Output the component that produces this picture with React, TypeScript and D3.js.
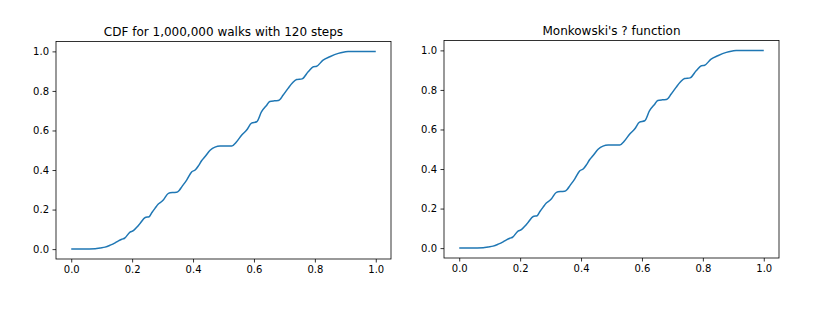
import React, { useEffect, useRef } from 'react';
import * as d3 from 'd3';

// points (x in [0,1])
const xs = [0, 0.04, 0.079, 0.095, 0.111, 0.128, 0.144, 0.155, 0.166, 0.175,
  0.193, 0.204, 0.215, 0.226, 0.243, 0.256, 0.265, 0.275, 0.286, 0.295,
  0.303, 0.319, 0.333, 0.346, 0.355, 0.363, 0.379, 0.396, 0.407, 0.418,
  0.428, 0.439, 0.456, 0.472, 0.489, 0.505, 0.527, 0.543, 0.56, 0.576,
  0.592, 0.609, 0.625, 0.642, 0.652, 0.667, 0.68, 0.696, 0.712, 0.726,
  0.74, 0.758, 0.778, 0.795, 0.806, 0.827, 0.849, 0.877, 0.893, 0.909,
  0.93, 1.0];

const walkCdf = [0, 0, 0.002, 0.006, 0.01, 0.02, 0.032, 0.042, 0.05, 0.055,
  0.086, 0.093, 0.11, 0.13, 0.16, 0.164, 0.185, 0.206, 0.228, 0.238,
  0.25, 0.282, 0.286, 0.287, 0.298, 0.315, 0.349, 0.391, 0.4, 0.422,
  0.447, 0.467, 0.5, 0.516, 0.521, 0.521, 0.522, 0.543, 0.577, 0.602,
  0.637, 0.644, 0.695, 0.728, 0.747, 0.75, 0.751, 0.779, 0.813, 0.84,
  0.858, 0.861, 0.897, 0.922, 0.925, 0.956, 0.973, 0.99, 0.996, 0.999,
  1.0, 1.0];

const questionMark = [0, 0, 0.002, 0.006, 0.01, 0.02, 0.032, 0.042, 0.05, 0.055,
  0.086, 0.093, 0.11, 0.13, 0.16, 0.164, 0.185, 0.206, 0.228, 0.238,
  0.25, 0.282, 0.286, 0.287, 0.298, 0.315, 0.349, 0.391, 0.4, 0.422,
  0.447, 0.467, 0.5, 0.516, 0.521, 0.521, 0.522, 0.543, 0.577, 0.602,
  0.637, 0.644, 0.695, 0.728, 0.747, 0.75, 0.751, 0.779, 0.813, 0.84,
  0.858, 0.861, 0.897, 0.922, 0.925, 0.956, 0.973, 0.99, 0.996, 0.999,
  1.0, 1.0];

const titles = ['CDF for 1,000,000 walks with 120 steps', "Monkowski's ? function"];
const tickValues = [0, 0.2, 0.4, 0.6, 0.8, 1.0];

const width = 818;
const height = 309;

export default function App() {
  const ref = useRef<SVGSVGElement>(null);

  useEffect(() => {
    const svg = d3.select(ref.current);
    svg.selectAll('*').remove();

    const panels = [
      { left: 56, top: 41.5, series: walkCdf, title: titles[0] },
      { left: 444, top: 40.5, series: questionMark, title: titles[1] },
    ];
    const w = 335;
    const h = 217.5;

    panels.forEach(p => {
      const g = svg.append('g').attr('transform', `translate(${p.left},${p.top})`);

      // matplotlib pads the data range by 5%
      const x = d3.scaleLinear().domain([-0.05, 1.05]).range([0, w]);
      const y = d3.scaleLinear().domain([-0.05, 1.05]).range([h, 0]);

      const line = d3.line<number>()
        .x((d, i) => x(xs[i]))
        .y(d => y(d))
        .curve(d3.curveMonotoneX);

      g.append('path')
        .datum(p.series)
        .attr('d', line)
        .attr('fill', 'none')
        .attr('stroke', '#1f77b4')
        .attr('stroke-width', 1.5)
        .attr('stroke-linejoin', 'round');

      const xAxis = d3.axisBottom(x)
        .tickValues(tickValues)
        .tickFormat(d3.format('.1f'))
        .tickSize(3.5)
        .tickPadding(3.5);
      const yAxis = d3.axisLeft(y)
        .tickValues(tickValues)
        .tickFormat(d3.format('.1f'))
        .tickSize(3.5)
        .tickPadding(3.5);

      const gx = g.append('g').attr('transform', `translate(0,${h})`).call(xAxis);
      const gy = g.append('g').call(yAxis);
      [gx, gy].forEach(a => {
        a.select('.domain').remove();
        a.selectAll('line').attr('stroke', '#000').attr('stroke-width', 0.8);
        a.selectAll('text')
          .attr('fill', '#000')
          .style('font-family', '"DejaVu Sans", sans-serif')
          .style('font-size', '10px');
      });

      // spines
      g.append('rect')
        .attr('width', w)
        .attr('height', h)
        .attr('fill', 'none')
        .attr('stroke', '#000')
        .attr('stroke-width', 0.8);

      g.append('text')
        .attr('x', w / 2)
        .attr('y', -6)
        .attr('text-anchor', 'middle')
        .style('font-family', '"DejaVu Sans", sans-serif')
        .style('font-size', '12px')
        .attr('fill', '#000')
        .text(p.title);
    });
  }, []);

  return (
    <svg ref={ref} width={width} height={height}
      style={{ position: 'absolute', left: 0, top: 0, background: '#fff' }} />
  );
}
